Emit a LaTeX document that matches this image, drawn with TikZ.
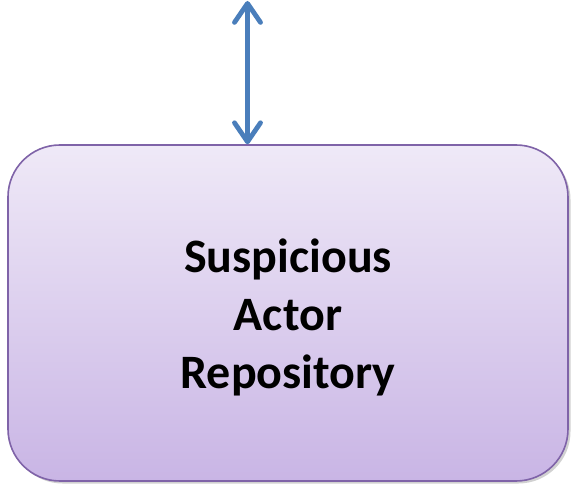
\documentclass[tikz,border=0pt]{standalone}
\usepackage{fontspec}
\setmainfont{Carlito}
\usetikzlibrary{arrows.meta}
\definecolor{boxtop}{HTML}{EFE9F7}
\definecolor{boxbot}{HTML}{C9B5E5}
\definecolor{boxline}{HTML}{7F63A8}
\definecolor{arrowblue}{HTML}{4A7EBB}
\tikzset{
  repo/.style={draw=boxline, line width=1.6pt, rounded corners=52pt,
    top color=boxtop, bottom color=boxbot, minimum width=560pt, minimum height=336pt,
    inner sep=0pt},
  repotext/.style={inner sep=0pt, font=\bfseries\fontsize{48}{58}\selectfont, align=center, text=black},
  link/.style={draw=arrowblue, line width=4.8pt,
    {Straight Barb[length=19pt,width=26pt,round]}-{Straight Barb[length=19pt,width=26pt,round]}}
}
\begin{document}
\begin{tikzpicture}[x=1pt,y=1pt]
\useasboundingbox (0,0) rectangle (571,483);
\fill[black,opacity=0.18,rounded corners=52pt] (10.5,-0.5) rectangle (570.5,335.5);
\node[repo] (box) at (288,170) {};
\node[repotext] (label) at ([yshift=-4pt]box.center) {Suspicious\\Actor\\Repository};
\coordinate (top) at (247.5,482);
\draw[link] (top |- box.north) -- (top);
\end{tikzpicture}
\end{document}
